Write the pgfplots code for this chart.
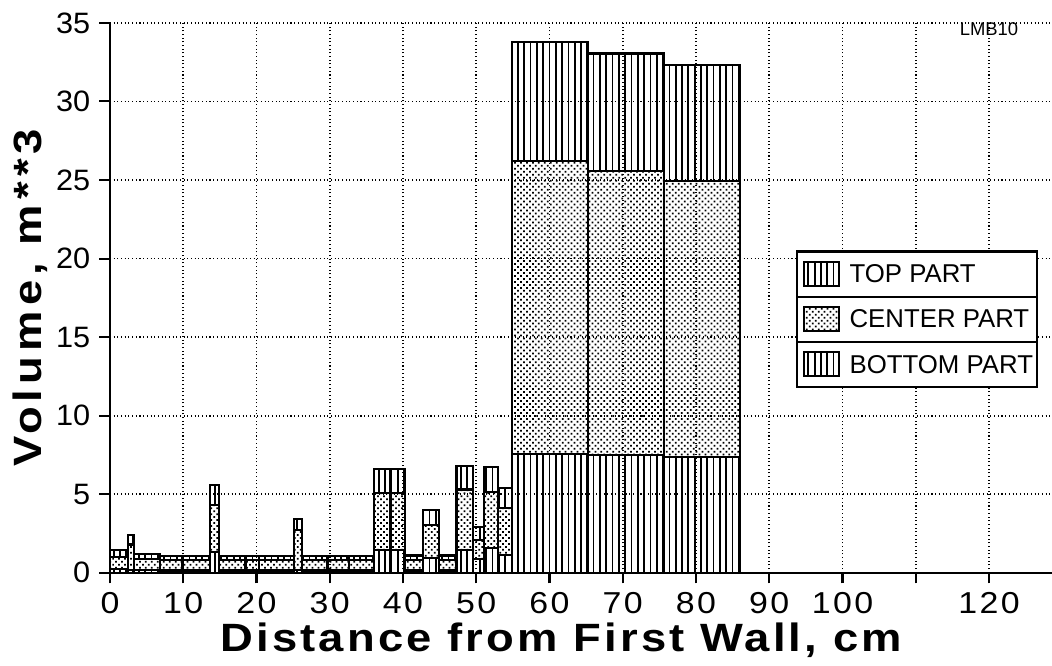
\documentclass[border=0pt]{standalone}
\usepackage{fontspec}
\setmainfont{Liberation Sans}
\newfontfamily\ytickfont[FakeStretch=1.04]{Liberation Sans}
\newfontfamily\xtickfont[FakeStretch=1.12,LetterSpace=8]{Liberation Sans}
\newfontfamily\xlabfont[FakeStretch=1.15,LetterSpace=8]{Liberation Sans Bold}
\newfontfamily\ylabfont[FakeStretch=1.15,LetterSpace=13]{Liberation Sans Bold}
\usepackage{pgfplots}
\usepackage{pgfplotstable}
\pgfplotsset{compat=1.18}
\usetikzlibrary{patterns.meta}

% Layer boundaries of each zone: x = left edge of the zone (cm),
% b = top of bottom part, c = top of center part, t = top of top part (m**3).
% The last row only closes the final interval.
\pgfplotstableread{
x     b     c     t
0.0   0.25  1.00  1.45
2.5   0.20  1.80  2.40
3.3   0.20  0.90  1.20
6.8   0.15  0.80  1.05
9.9   0.15  0.80  1.05
13.7  1.30  4.30  5.60
14.9  0.15  0.80  1.05
18.5  0.15  0.80  1.05
20.3  0.15  0.80  1.05
25.1  0.20  2.70  3.40
26.2  0.15  0.80  1.05
29.7  0.15  0.80  1.05
32.6  0.15  0.80  1.05
36.1  1.45  5.10  6.60
38.3  1.45  5.10  6.60
40.3  0.15  0.80  1.10
42.7  0.95  3.05  4.00
44.9  0.15  0.80  1.10
47.3  1.45  5.30  6.80
49.6  0.90  2.10  2.90
51.0  1.60  5.15  6.75
53.0  1.15  4.15  5.40
54.9  7.55  26.20 33.80
65.3  7.50  25.55 33.05
75.6  7.35  24.95 32.30
86.0  7.35  24.95 32.30
}\zones

\tikzset{
  linepat/.style={draw=black, line width=0.8pt, fill=white,
    postaction={pattern={Lines[angle=90,distance=2.4pt,line width=0.65pt]}}},
  dotpat/.style={draw=black, line width=0.8pt, fill=white,
    postaction={pattern={Dots[angle=45,distance=1.6pt,radius=0.47pt]}}},
}

\begin{document}
\begin{tikzpicture}
\begin{axis}[
  scale only axis, width=358pt, height=209pt,
  xmin=0, xmax=128.6, ymin=0, ymax=35,
  axis lines=left, axis line style={-, line width=0.9pt},
  xtick={0,10,...,120},
  xticklabels={0,10,20,30,40,50,60,70,80,90,100,,120},
  ytick={0,5,...,35},
  tick align=outside, major tick length=4pt,
  tick style={black, line width=0.8pt},
  grid=major, grid style={densely dotted, line width=0.7pt, black},
  axis on top,
  /pgf/number format/assume math mode=true,
  x tick label style={font=\xtickfont\fontsize{11.5}{11.5}\selectfont},
  y tick label style={font=\ytickfont\fontsize{11.2}{11.2}\selectfont},
  xlabel={\xlabfont Distance from First Wall, cm},
  ylabel={\ylabfont Volume, m**3},
  label style={font=\fontsize{15}{15}\selectfont},
  xlabel style={at={(axis description cs:0.479,-0.122)}, anchor=center},
  ylabel style={at={(axis description cs:-0.085,0.5)}, anchor=center},
]
\addplot[ybar interval, linepat] table[x=x, y=t] {\zones};
\addplot[ybar interval, dotpat]  table[x=x, y=c] {\zones};
\addplot[ybar interval, linepat] table[x=x, y=b] {\zones};

\coordinate (lgNW) at (axis cs:93.8,20.45);
\coordinate (lgSE) at (axis cs:126.6,11.85);
\coordinate (lgR1) at (axis cs:93.8,17.58);
\coordinate (lgR2) at (axis cs:93.8,14.71);
\coordinate (lgR1e) at (axis cs:126.6,17.58);
\coordinate (lgR2e) at (axis cs:126.6,14.71);
\coordinate (sw1) at (axis cs:94.8,19.81);
\coordinate (sw1b) at (axis cs:99.5,18.28);
\coordinate (sw2) at (axis cs:94.8,16.94);
\coordinate (sw2b) at (axis cs:99.5,15.41);
\coordinate (sw3) at (axis cs:94.8,14.07);
\coordinate (sw3b) at (axis cs:99.5,12.54);
\coordinate (tx1) at (axis cs:100.9,19.02);
\coordinate (tx2) at (axis cs:100.9,16.15);
\coordinate (tx3) at (axis cs:100.9,13.28);
\coordinate (lmb) at (axis cs:120,34.6);
\end{axis}

% legend box
\draw[line width=0.8pt, fill=white] (lgNW) rectangle (lgSE);
\draw[line width=0.8pt] (lgR1) -- (lgR1e);
\draw[line width=0.8pt] (lgR2) -- (lgR2e);
\path[linepat] (sw1) rectangle (sw1b);
\path[dotpat]  (sw2) rectangle (sw2b);
\path[linepat] (sw3) rectangle (sw3b);
\node[anchor=west, inner sep=0pt, font=\fontsize{9.8}{9.8}\selectfont] at (tx1) {TOP PART};
\node[anchor=west, inner sep=0pt, font=\fontsize{9.8}{9.8}\selectfont] at (tx2) {CENTER PART};
\node[anchor=west, inner sep=0pt, font=\fontsize{9.8}{9.8}\selectfont] at (tx3) {BOTTOM PART};
\node[font=\fontsize{7}{7}\selectfont] at (lmb) {LMB10};

\pgfresetboundingbox
\path[use as bounding box] ([xshift=-41.8pt,yshift=-35.4pt]current axis.south west)
  rectangle ([yshift=8.7pt]current axis.north east);
\end{tikzpicture}
\end{document}
